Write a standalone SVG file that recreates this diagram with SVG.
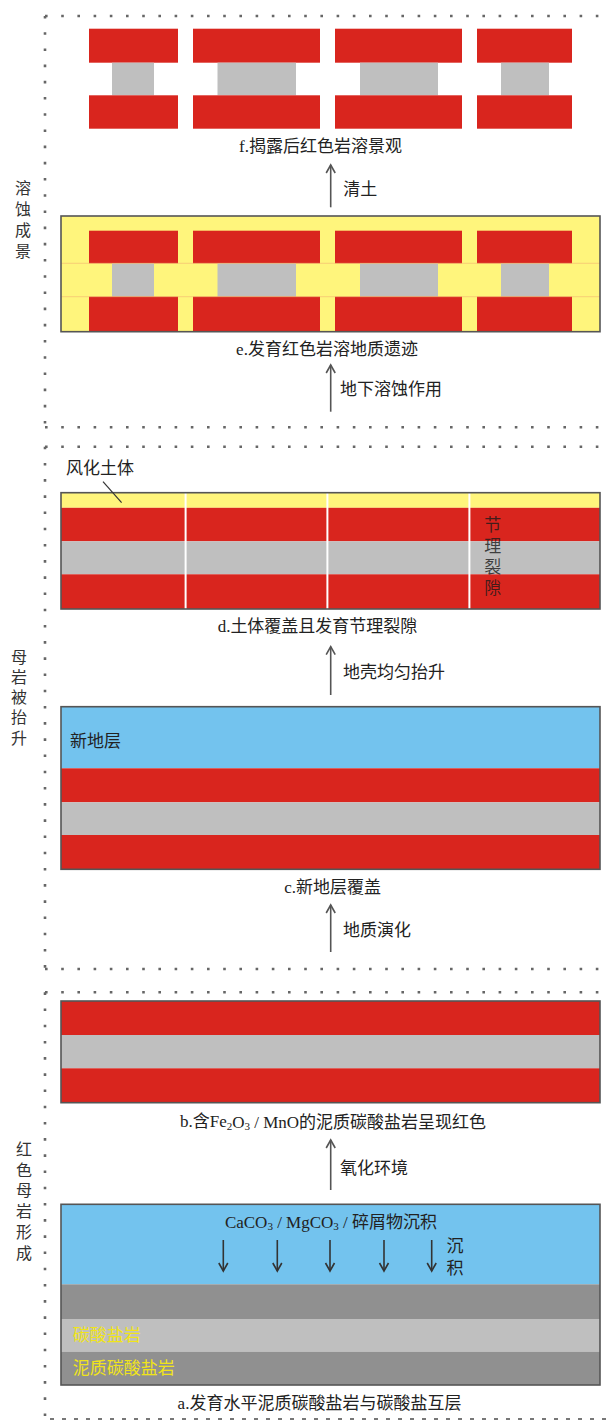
<svg xmlns="http://www.w3.org/2000/svg" width="609" height="1422" viewBox="0 0 609 1422">
  <style>
    .t { font-family: "Liberation Serif", "Noto Sans CJK SC", serif; font-size: 17px; fill: #222; dominant-baseline: central; }
    .cap { text-anchor: middle; }
    .side { font-family: "Liberation Serif", "Noto Sans CJK SC", serif; font-size: 16px; fill: #333; text-anchor: middle; dominant-baseline: central; }
    .dots { stroke: #666; stroke-width: 2.6; stroke-dasharray: 2.6 13.6; fill: none; }
    .dash { stroke: #777; stroke-width: 2; stroke-dasharray: 4 8; fill: none; }
    .frame { fill: none; stroke: #555; stroke-width: 1.6; }
    .red { fill: #D9251E; }
    .gray { fill: #BFBFBF; }
    .dgray { fill: #909090; }
    .yel { fill: #FFF57C; }
    .blue { fill: #73C3EE; }
    .arr { stroke: #555; stroke-width: 1.6; fill: none; marker-end: url(#head); }
    .darr { stroke: #333; stroke-width: 1.6; fill: none; marker-end: url(#dhead); }
    .sub { font-size: 11px; }
  </style>
  <defs>
    <marker id="head" markerUnits="userSpaceOnUse" markerWidth="14" markerHeight="14" viewBox="0 0 14 14" refX="11" refY="7" orient="auto">
      <path d="M3,2.5 L11,7 L3,11.5" fill="none" stroke="#555" stroke-width="1.6"/>
    </marker>
    <marker id="dhead" markerUnits="userSpaceOnUse" markerWidth="14" markerHeight="14" viewBox="0 0 14 14" refX="11" refY="7" orient="auto">
      <path d="M3,2.5 L11,7 L3,11.5" fill="none" stroke="#333" stroke-width="1.6"/>
    </marker>
  </defs>

  <rect width="609" height="1422" fill="#fff"/>

  <!-- dotted stage frames -->
  <g id="frames">
    <line class="dots" x1="45" y1="16" x2="609" y2="16"/>
    <line class="dots" x1="45" y1="16" x2="45" y2="427"/>
    <line class="dots" x1="45" y1="427.3" x2="609" y2="427.3"/>
    <line class="dots" x1="45" y1="446.7" x2="609" y2="446.7"/>
    <line class="dots" x1="45" y1="446.7" x2="45" y2="969"/>
    <line class="dots" x1="45" y1="969" x2="609" y2="969"/>
    <line class="dots" x1="45" y1="992.3" x2="609" y2="992.3"/>
    <line class="dots" x1="45" y1="992.3" x2="45" y2="1419"/>
    <line class="dash" x1="50" y1="1419" x2="609" y2="1419"/>
  </g>

  <!-- stage titles -->
  <g id="stage-titles">
    <text class="side" x="23" y="188">溶</text>
    <text class="side" x="23" y="209">蚀</text>
    <text class="side" x="23" y="230">成</text>
    <text class="side" x="23" y="251">景</text>

    <text class="side" x="19" y="657">母</text>
    <text class="side" x="19" y="677">岩</text>
    <text class="side" x="19" y="697">被</text>
    <text class="side" x="19" y="717">抬</text>
    <text class="side" x="19" y="738">升</text>

    <text class="side" x="24" y="1149">红</text>
    <text class="side" x="24" y="1170">色</text>
    <text class="side" x="24" y="1190">母</text>
    <text class="side" x="24" y="1211">岩</text>
    <text class="side" x="24" y="1232">形</text>
    <text class="side" x="24" y="1253">成</text>
  </g>

  <!-- f: exposed karst landscape -->
  <g id="panel-f">
    <rect class="red" x="89" y="28.7" width="89" height="34"/>
    <rect class="red" x="193" y="28.7" width="127" height="34"/>
    <rect class="red" x="335" y="28.7" width="127" height="34"/>
    <rect class="red" x="477" y="28.7" width="95" height="34"/>
    <rect class="gray" x="112" y="62.7" width="42" height="32.6"/>
    <rect class="gray" x="217.5" y="62.7" width="78.5" height="32.6"/>
    <rect class="gray" x="360" y="62.7" width="78" height="32.6"/>
    <rect class="gray" x="501" y="62.7" width="48" height="32.6"/>
    <rect class="red" x="89" y="95.3" width="89" height="33.4"/>
    <rect class="red" x="193" y="95.3" width="127" height="33.4"/>
    <rect class="red" x="335" y="95.3" width="127" height="33.4"/>
    <rect class="red" x="477" y="95.3" width="95" height="33.4"/>
    <text class="t cap" x="320.5" y="146.7">f.揭露后红色岩溶景观</text>
  </g>

  <!-- e: karst features under soil -->
  <g id="panel-e">
    <rect class="yel" x="61" y="216" width="539" height="115.7"/>
    <rect class="red" x="89" y="230.7" width="89" height="32.6"/>
    <rect class="red" x="193" y="230.7" width="127" height="32.6"/>
    <rect class="red" x="335" y="230.7" width="127" height="32.6"/>
    <rect class="red" x="477" y="230.7" width="95" height="32.6"/>
    <rect class="gray" x="112" y="263.3" width="42" height="33.4"/>
    <rect class="gray" x="217.5" y="263.3" width="78.5" height="33.4"/>
    <rect class="gray" x="360" y="263.3" width="78" height="33.4"/>
    <rect class="gray" x="501" y="263.3" width="48" height="33.4"/>
    <rect class="red" x="89" y="296.7" width="89" height="35"/>
    <rect class="red" x="193" y="296.7" width="127" height="35"/>
    <rect class="red" x="335" y="296.7" width="127" height="35"/>
    <rect class="red" x="477" y="296.7" width="95" height="35"/>
    <line x1="61" y1="263.3" x2="600" y2="263.3" stroke="#F2B070" stroke-width="0.8" opacity="0.7"/>
    <line x1="61" y1="296.7" x2="600" y2="296.7" stroke="#F2B070" stroke-width="0.8" opacity="0.7"/>
    <rect class="frame" x="61" y="216" width="539" height="115.7"/>
    <text class="t cap" x="327" y="349">e.发育红色岩溶地质遗迹</text>
  </g>

  <!-- d: soil cover and joints -->
  <g id="panel-d">
    <rect class="yel" x="61" y="492.7" width="539" height="15.1"/>
    <rect class="red" x="61" y="507.8" width="539" height="33.5"/>
    <rect class="gray" x="61" y="541.3" width="539" height="33"/>
    <rect class="red" x="61" y="574.3" width="539" height="34.7"/>
    <line x1="185.6" y1="492.7" x2="185.6" y2="609" stroke="#fff" stroke-width="2"/>
    <line x1="327.4" y1="492.7" x2="327.4" y2="609" stroke="#fff" stroke-width="2"/>
    <line x1="469.4" y1="492.7" x2="469.4" y2="609" stroke="#fff" stroke-width="2"/>
    <rect class="frame" x="61" y="492.7" width="539" height="116.3"/>
    <text class="t" x="66" y="468.3">风化土体</text>
    <line x1="103" y1="481.7" x2="121.6" y2="502.7" stroke="#333" stroke-width="1.2"/>
    <g fill="#1a1a1a" fill-opacity="0.8">
      <text class="t cap" x="492.7" y="525.7" style="fill:inherit">节</text>
      <text class="t cap" x="492.7" y="546.7" style="fill:inherit">理</text>
      <text class="t cap" x="492.7" y="567.3" style="fill:inherit">裂</text>
      <text class="t cap" x="492.7" y="588.3" style="fill:inherit">隙</text>
    </g>
    <text class="t cap" x="317.5" y="626">d.土体覆盖且发育节理裂隙</text>
  </g>

  <!-- c: new strata cover -->
  <g id="panel-c">
    <rect class="blue" x="61" y="706.7" width="539" height="61.6"/>
    <rect class="red" x="61" y="768.3" width="539" height="34"/>
    <rect class="gray" x="61" y="802.3" width="539" height="32.7"/>
    <rect class="red" x="61" y="835" width="539" height="34.3"/>
    <rect class="frame" x="61" y="706.7" width="539" height="162.6"/>
    <text class="t" x="70" y="741.7">新地层</text>
    <text class="t cap" x="332.6" y="887.3">c.新地层覆盖</text>
  </g>

  <!-- b: red argillaceous carbonate -->
  <g id="panel-b">
    <rect class="red" x="61" y="1001" width="539" height="34"/>
    <rect class="gray" x="61" y="1035" width="539" height="33.3"/>
    <rect class="red" x="61" y="1068.3" width="539" height="34.4"/>
    <rect class="frame" x="61" y="1001" width="539" height="101.7"/>
    <text class="t cap" x="333" y="1121.7">b.含Fe<tspan class="sub" dy="4">2</tspan><tspan dy="-4">O</tspan><tspan class="sub" dy="4">3</tspan><tspan dy="-4"> / MnO的泥质碳酸盐岩呈现红色</tspan></text>
  </g>

  <!-- a: interbedded deposition -->
  <g id="panel-a">
    <rect class="blue" x="61" y="1204.3" width="539" height="80"/>
    <rect class="dgray" x="61" y="1284.3" width="539" height="34.7"/>
    <rect class="gray" x="61" y="1319" width="539" height="32.7"/>
    <rect class="dgray" x="61" y="1351.7" width="539" height="33.3"/>
    <rect class="frame" x="61" y="1204.3" width="539" height="180.7"/>
    <text class="t cap" x="331" y="1222.3">CaCO<tspan class="sub" dy="4">3</tspan><tspan dy="-4"> / MgCO</tspan><tspan class="sub" dy="4">3</tspan><tspan dy="-4"> / 碎屑物沉积</tspan></text>
    <line class="darr" x1="223.3" y1="1240" x2="223.3" y2="1271"/>
    <line class="darr" x1="277.3" y1="1240" x2="277.3" y2="1271"/>
    <line class="darr" x1="330" y1="1240" x2="330" y2="1271"/>
    <line class="darr" x1="384" y1="1240" x2="384" y2="1271"/>
    <line class="darr" x1="431.7" y1="1240" x2="431.7" y2="1271"/>
    <text class="t cap" x="455" y="1246.7">沉</text>
    <text class="t cap" x="455" y="1268.3">积</text>
    <text class="t" x="72.7" y="1335" style="fill:#F0E41A">碳酸盐岩</text>
    <text class="t" x="72.7" y="1368.3" style="fill:#F0E41A">泥质碳酸盐岩</text>
    <text class="t cap" x="319.5" y="1403">a.发育水平泥质碳酸盐岩与碳酸盐互层</text>
  </g>

  <!-- process arrows between stages -->
  <g id="connectors">
    <line class="arr" x1="330.7" y1="207.3" x2="330.7" y2="165"/>
    <line class="arr" x1="330.7" y1="411.7" x2="330.7" y2="365"/>
    <line class="arr" x1="330.7" y1="695" x2="330.7" y2="646.7"/>
    <line class="arr" x1="330.7" y1="952" x2="330.7" y2="905"/>
    <line class="arr" x1="330.7" y1="1190" x2="330.7" y2="1140"/>
  </g>
  <g id="connector-labels">
    <text class="t" x="343.3" y="189.3">清土</text>
    <text class="t" x="340" y="389.3">地下溶蚀作用</text>
    <text class="t" x="343" y="672">地壳均匀抬升</text>
    <text class="t" x="343" y="930">地质演化</text>
    <text class="t" x="340" y="1168.3">氧化环境</text>
  </g>
</svg>
